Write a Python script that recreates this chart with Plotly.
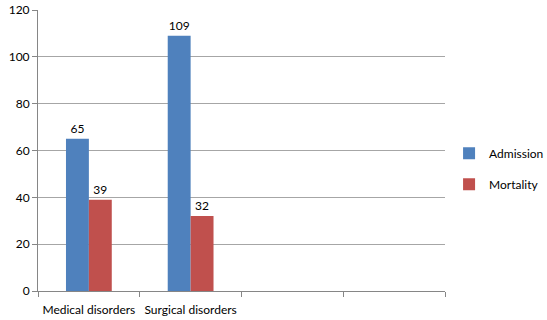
import plotly.graph_objects as go

categories = ["Medical disorders", "Surgical disorders", " ", "  "]
admission = [65, 109, None, None]
mortality = [39, 32, None, None]
y_ticks = [0, 20, 40, 60, 80, 100, 120]

def lbl(vals):
    return ["" if v is None else str(v) for v in vals]

fig = go.Figure()
fig.add_trace(go.Bar(x=categories, y=admission, name="Admission",
                     marker=dict(color="#4F81BD", line=dict(width=0)),
                     text=lbl(admission), textposition="outside", cliponaxis=False,
                     textfont=dict(size=12, color="#000000"), legendgroup="a"))
fig.add_trace(go.Bar(x=categories, y=mortality, name="Mortality",
                     marker=dict(color="#C0504D", line=dict(width=0)),
                     text=lbl(mortality), textposition="outside", cliponaxis=False,
                     textfont=dict(size=12, color="#000000"), legendgroup="b"))

fig.update_layout(
    width=547, height=320,
    margin=dict(l=38, r=102, t=10, b=29, autoexpand=False),
    paper_bgcolor="white", plot_bgcolor="white",
    font=dict(family="Lato, Liberation Sans, Arial, sans-serif", size=12, color="#000000"),
    barmode="group", bargap=0.55, bargroupgap=0,
    legend=dict(x=1.01, y=0.435, xanchor="left", yanchor="middle",
                traceorder="grouped", tracegroupgap=12,
                font=dict(size=12), bgcolor="rgba(0,0,0,0)"),
    xaxis=dict(type="category", categoryorder="array", categoryarray=categories,
               range=[-0.5, 3.5], tickson="boundaries", ticks="outside", ticklen=5,
               tickcolor="#868686", showline=True, linecolor="#868686", linewidth=1,
               showgrid=False, tickfont=dict(size=12), tickangle=0, automargin=False,
               ticklabelstandoff=8),
    yaxis=dict(range=[0, 120], tickvals=y_ticks, ticks="outside", ticklen=5,
               tickcolor="#868686", showline=True, linecolor="#868686", linewidth=1,
               showgrid=True, gridcolor="#A6A6A6", gridwidth=1, zeroline=False,
               tickfont=dict(size=12), automargin=False),
)
fig.write_html("out.html", config={"displayModeBar": False},
               post_script="document.body.style.margin='0';document.body.style.overflow='hidden';")
